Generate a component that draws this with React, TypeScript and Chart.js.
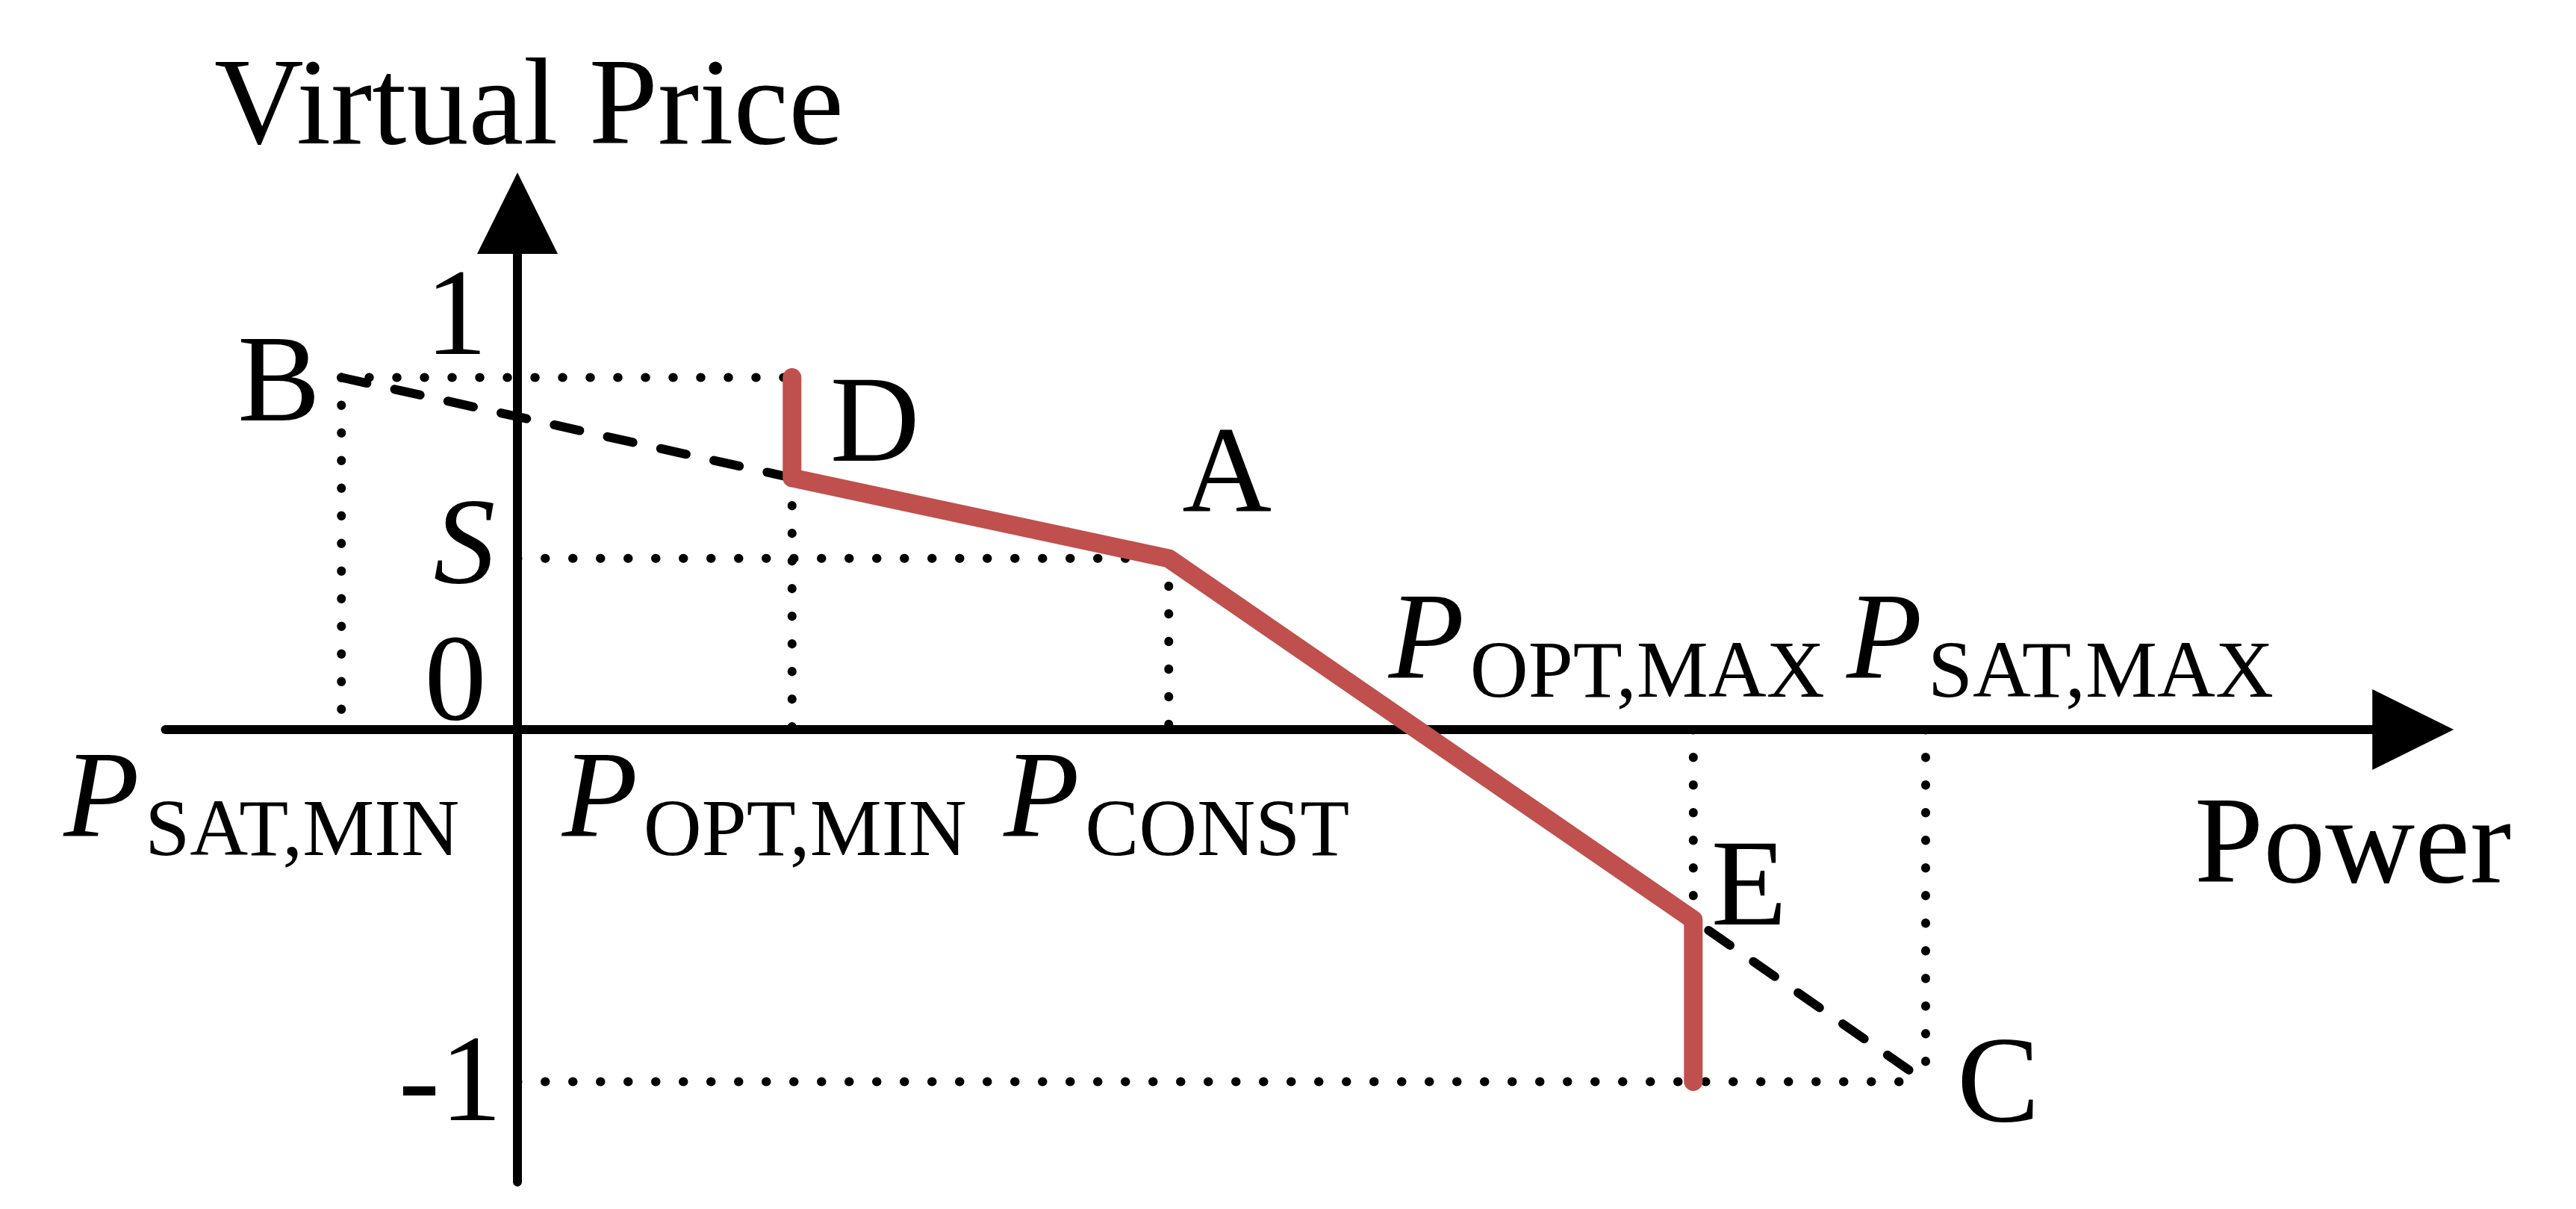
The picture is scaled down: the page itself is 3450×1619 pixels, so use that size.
import React, { useEffect, useRef } from "react";
import { Chart, registerables } from "chart.js";

Chart.register(...registerables);

const W = 3450;
const H = 1619;

// ---- data (chart units) ----
const powerTicks = [-0.5, 0.78, 1.85, 3.34, 4.0];
const powerTickNames = ["SAT,MIN", "OPT,MIN", "CONST", "OPT,MAX", "SAT,MAX"];
const priceTicks = [1, 0.486, 0, -1];
const priceTickLabels = ["1", "S", "0", "-1"];

const curveX = [0.78, 0.78, 1.85, 3.34, 3.34];
const curveY = [1, 0.715, 0.486, -0.54, -1];

const dashUpperX = [-0.5, 0.78];
const dashUpperY = [1, 0.715];
const dashLowerX = [3.34, 4.0];
const dashLowerY = [-0.54, -1];

const guideX = [
  [-0.5, 0.78],
  [-0.5, -0.5],
  [0.78, 0.78],
  [0, 1.85],
  [1.85, 1.85],
  [3.34, 3.34],
  [4.0, 4.0],
  [0, 4.0],
];
const guideY = [
  [1, 1],
  [1, 0],
  [0.715, 0],
  [0.486, 0.486],
  [0.486, 0],
  [0, -0.54],
  [0, -1],
  [-1, -1],
];

const pointNames = ["B", "D", "A", "E", "C"];
const pointX = [-0.5, 0.78, 1.85, 3.34, 4.0];
const pointY = [1, 1, 0.486, -0.54, -1];

const xAxisRange = [-1.0, 5.5];
const yAxisRange = [-1.285, 1.582];

const axisTitles = ["Power", "Virtual Price"];

// ---- layout / styles ----
const UNIT = 471.5;
const ORIGIN_X = 693;
const ORIGIN_Y = 977;
const FONT = '"Liberation Serif", "Times New Roman", serif';
const BIG = 166;
const SUB = 108;
const RED = "#C0504D";

// pixel offsets for labels
const powerLabelDx = [-372, -308, -221, -408, -106];
const powerLabelBelow = [true, true, true, false, false];
const priceLabelPos = [
  { dx: -82, dy: -32, italic: false },
  { dx: -71, dy: 32, italic: true },
  { dx: -83, dy: -14, italic: false },
  { dx: -90, dy: 51, italic: false },
];
const pointLabelOff = [
  { dx: -139, dy: 57 },
  { dx: 51, dy: 111 },
  { dx: 18, dy: -63 },
  { dx: 24, dy: 6 },
  { dx: 42, dy: 52 },
];

function pairs(xs: number[], ys: number[]) {
  return xs.map((x, i) => ({ x, y: ys[i] }));
}

const overlayPlugin = {
  id: "overlay",
  beforeDatasetsDraw(chart: any) {
    const ctx = chart.ctx;
    const xs = chart.scales.x;
    const ys = chart.scales.y;
    const ox = xs.getPixelForValue(0);
    const oy = ys.getPixelForValue(0);
    const arrowLen = 109;
    const arrowHalf = 54;
    ctx.save();
    ctx.strokeStyle = "#000";
    ctx.fillStyle = "#000";
    ctx.lineWidth = 12;
    ctx.lineCap = "round";
    // x axis
    const xl = xs.getPixelForValue(xAxisRange[0]);
    const xr = xs.getPixelForValue(xAxisRange[1]);
    ctx.beginPath();
    ctx.moveTo(xl, oy);
    ctx.lineTo(xr - arrowLen + 2, oy);
    ctx.stroke();
    ctx.beginPath();
    ctx.moveTo(xr, oy);
    ctx.lineTo(xr - arrowLen, oy - arrowHalf);
    ctx.lineTo(xr - arrowLen, oy + arrowHalf);
    ctx.closePath();
    ctx.fill();
    // y axis
    const yb = ys.getPixelForValue(yAxisRange[0]);
    const yt = ys.getPixelForValue(yAxisRange[1]);
    ctx.beginPath();
    ctx.moveTo(ox, yb);
    ctx.lineTo(ox, yt + arrowLen - 2);
    ctx.stroke();
    ctx.beginPath();
    ctx.moveTo(ox, yt);
    ctx.lineTo(ox - arrowHalf, yt + arrowLen);
    ctx.lineTo(ox + arrowHalf, yt + arrowLen);
    ctx.closePath();
    ctx.fill();
    ctx.restore();
  },
  afterDatasetsDraw(chart: any) {
    const ctx = chart.ctx;
    const xs = chart.scales.x;
    const ys = chart.scales.y;
    const ox = xs.getPixelForValue(0);
    const oy = ys.getPixelForValue(0);
    ctx.save();
    ctx.fillStyle = "#000";
    ctx.textBaseline = "alphabetic";
    ctx.textAlign = "left";

    // axis titles
    ctx.font = `${BIG}px ${FONT}`;
    ctx.fillText(axisTitles[1], ox - 406, ys.getPixelForValue(yAxisRange[1]) - 39);
    ctx.fillText(axisTitles[0], ox + 2246, oy + 204);

    // power tick labels: italic P with subscript
    powerTicks.forEach((v, i) => {
      const px = xs.getPixelForValue(v) + powerLabelDx[i];
      const base = powerLabelBelow[i] ? oy + 143 : oy - 69;
      ctx.font = `italic ${BIG}px ${FONT}`;
      ctx.fillText("P", px, base);
      ctx.font = `${SUB}px ${FONT}`;
      ctx.fillText(powerTickNames[i], px + 109, base + 25);
    });

    // price tick labels
    priceTicks.forEach((v, i) => {
      const p = priceLabelPos[i];
      ctx.font = `${p.italic ? "italic " : ""}${BIG}px ${FONT}`;
      ctx.textAlign = "center";
      ctx.fillText(priceTickLabels[i], ox + p.dx, ys.getPixelForValue(v) + p.dy);
    });
    ctx.textAlign = "left";

    // point labels
    ctx.font = `${BIG}px ${FONT}`;
    pointNames.forEach((n, i) => {
      const px = xs.getPixelForValue(pointX[i]) + pointLabelOff[i].dx;
      const py = ys.getPixelForValue(pointY[i]) + pointLabelOff[i].dy;
      ctx.fillText(n, px, py);
    });
    ctx.restore();
  },
};

export default function App() {
  const ref = useRef<HTMLCanvasElement | null>(null);

  useEffect(() => {
    if (!ref.current) return;
    const datasets: any[] = [];
    datasets.push({
      data: pairs(curveX, curveY),
      borderColor: RED,
      borderWidth: 25,
      borderCapStyle: "round",
      borderJoinStyle: "round",
      showLine: true,
      pointRadius: 0,
      fill: false,
    });
    datasets.push({
      data: pairs(dashUpperX, dashUpperY),
      borderColor: "#000",
      borderWidth: 12,
      borderDash: [35, 38],
      borderCapStyle: "round",
      showLine: true,
      pointRadius: 0,
      fill: false,
    });
    datasets.push({
      data: pairs(dashLowerX, dashLowerY),
      borderColor: "#000",
      borderWidth: 12,
      borderDash: [35, 38],
      borderDashOffset: -25,
      borderCapStyle: "round",
      showLine: true,
      pointRadius: 0,
      fill: false,
    });
    guideX.forEach((gx, i) => {
      datasets.push({
        data: pairs(gx, guideY[i]),
        borderColor: "#000",
        borderWidth: 12,
        borderDash: [0.5, 36.5],
        borderCapStyle: "round",
        showLine: true,
        pointRadius: 0,
        fill: false,
      });
    });

    const chart = new Chart(ref.current, {
      type: "scatter",
      data: { datasets },
      options: {
        animation: false,
        responsive: false,
        devicePixelRatio: 1,
        layout: { padding: 0 },
        plugins: { legend: { display: false }, tooltip: { enabled: false } },
        scales: {
          x: {
            type: "linear",
            display: false,
            min: -ORIGIN_X / UNIT,
            max: (W - ORIGIN_X) / UNIT,
          },
          y: {
            type: "linear",
            display: false,
            min: -(H - ORIGIN_Y) / UNIT,
            max: ORIGIN_Y / UNIT,
          },
        },
      },
      plugins: [overlayPlugin],
    } as any);
    return () => chart.destroy();
  }, []);

  return (
    <div style={{ position: "absolute", left: 0, top: 0, width: W, height: H, background: "#fff" }}>
      <canvas ref={ref} width={W} height={H} style={{ width: W, height: H, display: "block" }} />
    </div>
  );
}
